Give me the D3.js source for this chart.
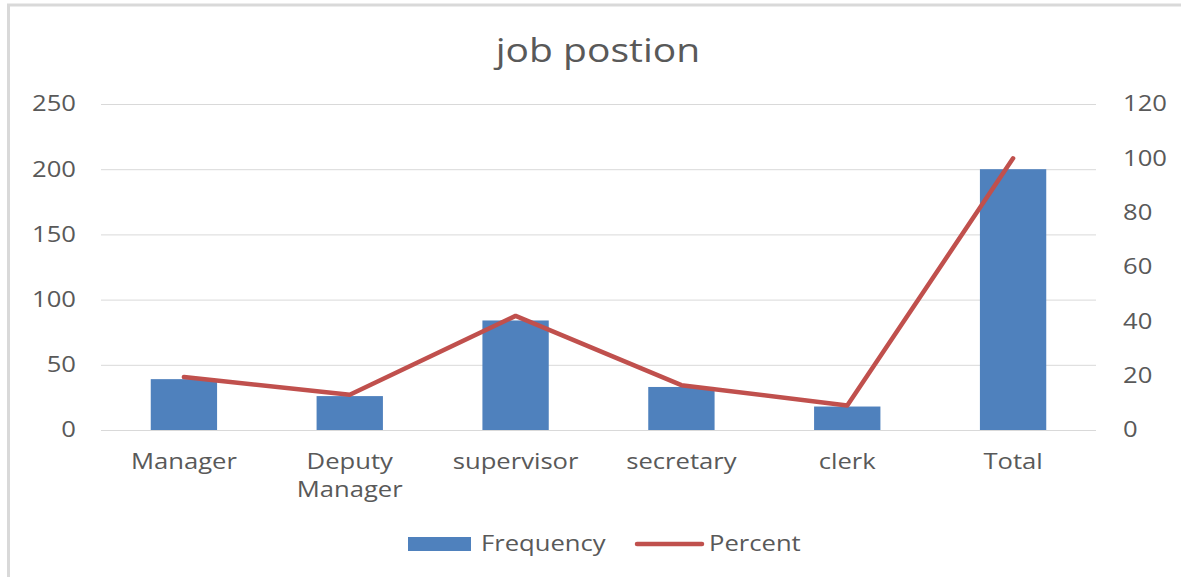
<!DOCTYPE html>
<html>
<head>
<meta charset="utf-8">
<script src="https://cdn.jsdelivr.net/npm/d3@7"></script>
<style>
    body { margin: 0; background: #fff; }
    text { font-family: 'Open Sans', 'Liberation Sans', sans-serif; fill: #595959; }
</style>
</head>
<body>
<div id="chart"></div>
<script>
const categories = ['Manager', 'Deputy Manager', 'supervisor', 'secretary', 'clerk', 'Total'];
const frequency = [39, 26, 84, 33, 18, 200];
const percent = [19.5, 13, 42, 16.5, 9, 100];
const leftTicks = [0, 50, 100, 150, 200, 250];
const rightTicks = [0, 20, 40, 60, 80, 100, 120];

const width = 1181, height = 577;
const margin = { top: 104, right: 85, bottom: 147, left: 101 };
const stretch = 1.22; // the source text looks horizontally stretched

const svg = d3.select('#chart').append('svg')
    .attr('width', width)
    .attr('height', height);

function place(x, y) {
    return 'translate(' + x + ',' + y + ') scale(' + stretch + ',1)';
}

// outer chart frame
svg.append('path')
    .attr('d', 'M8.5,' + height + ' V5 H' + width)
    .attr('fill', 'none')
    .attr('stroke', '#d9d9d9')
    .attr('stroke-width', 3);

const x = d3.scaleBand()
    .domain(categories)
    .range([margin.left, width - margin.right])
    .paddingInner(0.6)
    .paddingOuter(0.3);

const yLeft = d3.scaleLinear()
    .domain([0, 250])
    .range([height - margin.bottom, margin.top]);

const yRight = d3.scaleLinear()
    .domain([0, 120])
    .range([height - margin.bottom, margin.top]);

// gridlines
svg.append('g')
    .selectAll('line')
    .data(leftTicks)
    .join('line')
    .attr('x1', margin.left)
    .attr('x2', width - margin.right)
    .attr('y1', d => yLeft(d) + 0.5)
    .attr('y2', d => yLeft(d) + 0.5)
    .attr('stroke', '#d9d9d9')
    .attr('stroke-width', 1);

// left axis labels
svg.append('g')
    .selectAll('text')
    .data(leftTicks)
    .join('text')
    .attr('transform', d => place(76, yLeft(d)))
    .attr('dy', '0.35em')
    .attr('text-anchor', 'end')
    .attr('font-size', '21px')
    .text(d => d);

// right axis labels
svg.append('g')
    .selectAll('text')
    .data(rightTicks)
    .join('text')
    .attr('transform', d => place(1123, yRight(d)))
    .attr('dy', '0.35em')
    .attr('text-anchor', 'start')
    .attr('font-size', '21px')
    .text(d => d);

// bars
svg.append('g')
    .selectAll('rect')
    .data(categories)
    .join('rect')
    .attr('x', d => x(d))
    .attr('y', (d, i) => yLeft(frequency[i]))
    .attr('width', x.bandwidth())
    .attr('height', (d, i) => yLeft(0) - yLeft(frequency[i]))
    .attr('fill', '#4f81bd');

// percent line
const line = d3.line()
    .x((d, i) => x(categories[i]) + x.bandwidth() / 2)
    .y(d => yRight(d));

svg.append('path')
    .datum(percent)
    .attr('d', line)
    .attr('fill', 'none')
    .attr('stroke', '#c0504d')
    .attr('stroke-width', 4.5)
    .attr('stroke-linejoin', 'round')
    .attr('stroke-linecap', 'round');

// category labels
const xLabels = svg.append('g')
    .selectAll('text')
    .data(categories)
    .join('text')
    .attr('transform', d => place(x(d) + x.bandwidth() / 2, 469))
    .attr('text-anchor', 'middle')
    .attr('font-size', '21px');

xLabels.each(function (d) {
    const words = d === 'Deputy Manager' ? ['Deputy', 'Manager'] : [d];
    const t = d3.select(this);
    words.forEach((w, i) => {
        t.append('tspan')
            .attr('x', 0)
            .attr('dy', i === 0 ? 0 : 28)
            .text(w);
    });
});

// title
svg.append('text')
    .attr('transform', place(598, 62))
    .attr('text-anchor', 'middle')
    .attr('font-size', '32px')
    .text('job postion');

// legend
const legend = svg.append('g');
legend.append('rect')
    .attr('x', 408)
    .attr('y', 537)
    .attr('width', 63)
    .attr('height', 14)
    .attr('fill', '#4f81bd');
legend.append('text')
    .attr('transform', place(481, 544))
    .attr('dy', '0.35em')
    .attr('font-size', '21px')
    .text('Frequency');
legend.append('line')
    .attr('x1', 637)
    .attr('x2', 702)
    .attr('y1', 544)
    .attr('y2', 544)
    .attr('stroke', '#c0504d')
    .attr('stroke-width', 4.5)
    .attr('stroke-linecap', 'round');
legend.append('text')
    .attr('transform', place(709, 544))
    .attr('dy', '0.35em')
    .attr('font-size', '21px')
    .text('Percent');
</script>
</body>
</html>
